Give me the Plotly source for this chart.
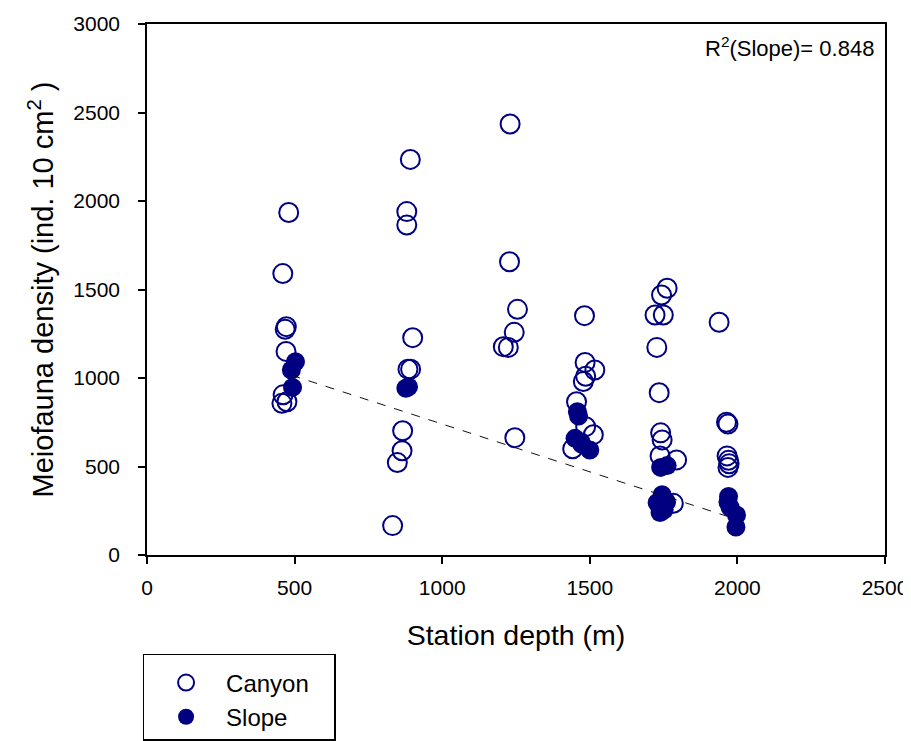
import numpy as np
import plotly.graph_objects as go

# Canyon stations (open markers)
canyon_depth = [480, 460, 472, 468, 471, 461, 474, 457,
                892, 880, 880, 900, 884, 893, 866, 864, 848, 832,
                1230, 1228, 1255, 1244, 1207, 1224, 1246,
                1482, 1484, 1517, 1486, 1478, 1455, 1486, 1512, 1442,
                1762, 1743, 1721, 1749, 1727, 1735, 1740, 1745, 1738, 1794, 1783,
                1938, 1963, 1968, 1965, 1970, 1972, 1968]
canyon_density = [1935, 1590, 1290, 1275, 1150, 905, 866, 857,
                  2235, 1940, 1864, 1228, 1050, 1050, 702, 589, 522, 166,
                  2435, 1657, 1388, 1258, 1177, 1173, 663,
                  1352, 1088, 1045, 1010, 980, 866, 725, 680, 600,
                  1507, 1469, 1356, 1356, 1173, 917, 690, 650, 560, 537, 292,
                  1315, 750, 740, 560, 535, 515, 495]

# Slope stations (filled markers)
slope_depth = [503, 489, 493,
               877, 886,
               1458, 1462, 1450, 1470, 1473, 1500,
               1740, 1762, 1745, 1728, 1760, 1738, 1752,
               1970, 1968, 1975, 1997, 1995]
slope_density = [1092, 1045, 947,
                 942, 950,
                 810, 785, 659, 640, 625, 593,
                 495, 505, 340, 295, 300, 240, 255,
                 330, 300, 270, 226, 158]

# Regression for slope stations
fit_slope = -0.54
fit_intercept = 1280
r2_slope = 0.848

x_ticks = [0, 500, 1000, 1500, 2000, 2500]
y_ticks = [0, 500, 1000, 1500, 2000, 2500, 3000]

navy = "#000080"
font_family = "Liberation Sans, Arial, sans-serif"
nb = "\u00a0"

fit_x = np.array([min(slope_depth), max(slope_depth)])
fit_y = fit_intercept + fit_slope * fit_x

fig = go.Figure()
fig.add_trace(go.Scatter(
    x=canyon_depth, y=canyon_density, mode="markers", name=nb * 3 + "Canyon" + nb * 3,
    marker=dict(symbol="circle-open", size=19, color=navy, line=dict(width=2, color=navy)),
))
fig.add_trace(go.Scatter(
    x=slope_depth, y=slope_density, mode="markers", name=nb * 3 + "Slope",
    marker=dict(symbol="circle", size=19, color=navy, line=dict(width=0)),
))
fig.add_trace(go.Scatter(
    x=fit_x, y=fit_y, mode="lines", showlegend=False,
    line=dict(color="#111111", width=1, dash="dash"),
))

fig.add_annotation(
    xref="paper", yref="paper", x=0.988, y=0.957, xanchor="right", yanchor="middle",
    text=f"R<sup>2</sup>(Slope)= {r2_slope}", showarrow=False,
    font=dict(size=22, color="black", family=font_family),
)

axis_common = dict(
    showline=True, linecolor="black", linewidth=1.5, mirror=True,
    ticks="outside", ticklen=7, tickwidth=1.5, tickcolor="black",
    showgrid=False, zeroline=False,
    tickfont=dict(size=21, color="black", family=font_family),
)

fig.update_xaxes(
    range=[0, 2500], tickvals=x_ticks, ticktext=[str(v) for v in x_ticks],
    title=dict(text="Station depth (m)", font=dict(size=28.5, color="black", family=font_family), standoff=27),
    ticklabelstandoff=6,
    **axis_common,
)
fig.update_yaxes(
    range=[0, 3000], tickvals=y_ticks, ticktext=[str(v) for v in y_ticks],
    title=dict(text="Meiofauna density (ind. 10 cm<sup>2</sup> )", font=dict(size=29, color="black", family=font_family), standoff=11),
    ticklabelstandoff=14,
    **axis_common,
)

fig.update_layout(
    width=903, height=733,
    margin=dict(l=139, r=26, t=16, b=186, autoexpand=False),
    plot_bgcolor="white", paper_bgcolor="white",
    font=dict(family=font_family, color="black"),
    legend=dict(
        x=-0.006, y=-0.186, xanchor="left", yanchor="top",
        bordercolor="black", borderwidth=1.5, bgcolor="white",
        font=dict(size=24, color="black", family=font_family),
        title=dict(text=" ", font=dict(size=4)),
        indentation=22,
    ),
)

fig.write_html("out.html")
